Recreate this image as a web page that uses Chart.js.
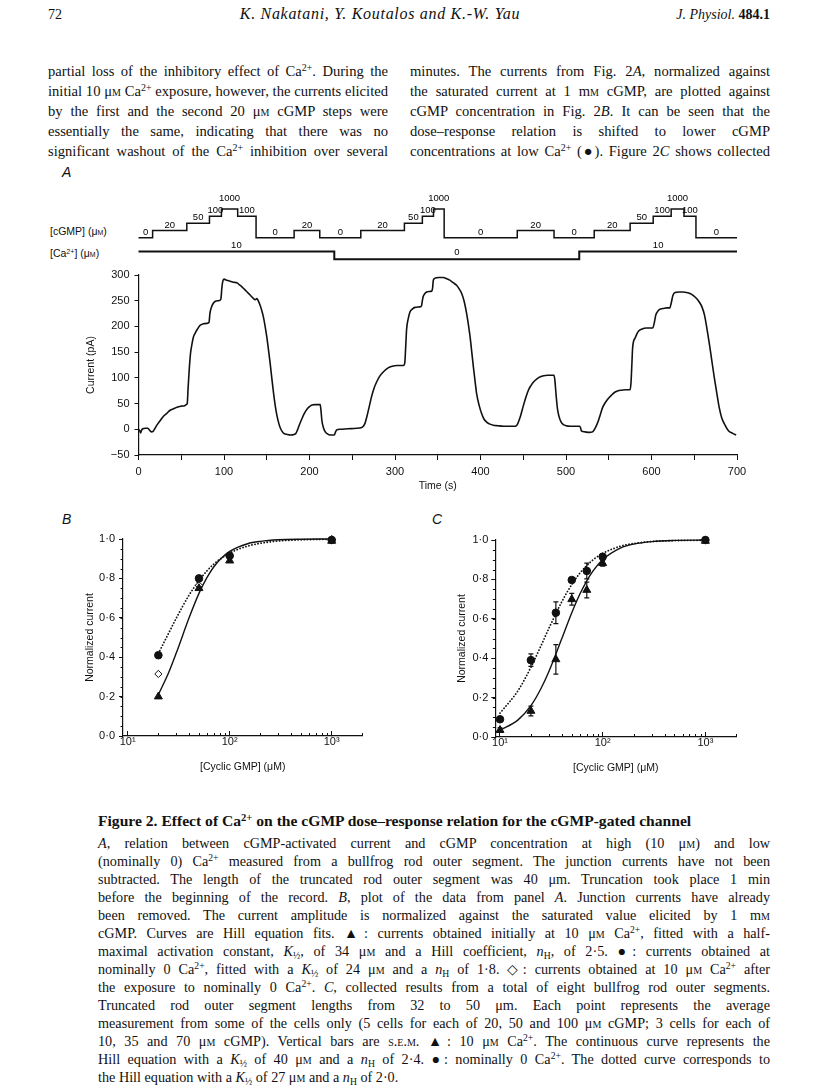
<!DOCTYPE html>
<html>
<head>
<meta charset="utf-8">
<script src="https://cdn.jsdelivr.net/npm/chart.js@4.4.1/dist/chart.umd.min.js"></script>
<style>
  body { margin: 0; background: #fff; }
  #page { position: relative; width: 816px; height: 1091px; overflow: hidden; font-family: "Liberation Serif", serif; color: #111; }
  .abs { position: absolute; }
  canvas { position: absolute; }
  .hdr { font-size: 14px; line-height: 18px; white-space: nowrap; }
  .ln { height: 20px; line-height: 20px; font-size: 14.6px; white-space: nowrap; text-align: justify; text-align-last: justify; }
  .cap { height: 18px; line-height: 18px; font-size: 14.2px; white-space: nowrap; text-align: justify; text-align-last: justify; }
  .cap.last { text-align: left; text-align-last: left; }
  sup { font-size: 0.68em; vertical-align: 0; position: relative; top: -0.48em; line-height: 0; }
  sub { font-size: 0.68em; vertical-align: 0; position: relative; top: 0.3em; line-height: 0; }
  .sc { font-variant: small-caps; }
  .plabel { font-family: "Liberation Sans", Arial, sans-serif; font-style: italic; font-size: 14px; }
  .stim { font-family: "Liberation Sans", Arial, sans-serif; font-size: 10.5px; line-height: 12px; }
</style>
</head>
<body>
<div id="page">
  <div class="abs hdr" style="left:48px;top:6px;">72</div>
  <div class="abs hdr" style="left:180px;width:400px;top:5px;text-align:center;font-style:italic;font-size:16px;letter-spacing:0.7px;">K. Nakatani, Y. Koutalos and K.-W. Yau</div>
  <div class="abs hdr" style="right:46px;top:6px;"><i>J. Physiol.</i> <b>484.1</b></div>

  <div class="abs" style="left:48px;top:61px;width:340px;">
    <div class="ln">partial loss of the inhibitory effect of Ca<sup>2+</sup>. During the</div>
    <div class="ln">initial 10 μ<span class="sc">m</span> Ca<sup>2+</sup> exposure, however, the currents elicited</div>
    <div class="ln">by the first and the second 20 μ<span class="sc">m</span> cGMP steps were</div>
    <div class="ln">essentially the same, indicating that there was no</div>
    <div class="ln">significant washout of the Ca<sup>2+</sup> inhibition over several</div>
  </div>
  <div class="abs" style="left:410px;top:61px;width:360px;">
    <div class="ln">minutes. The currents from Fig. 2<i>A</i>, normalized against</div>
    <div class="ln">the saturated current at 1 m<span class="sc">m</span> cGMP, are plotted against</div>
    <div class="ln">cGMP concentration in Fig. 2<i>B</i>. It can be seen that the</div>
    <div class="ln">dose–response relation is shifted to lower cGMP</div>
    <div class="ln">concentrations at low Ca<sup>2+</sup> (●). Figure 2<i>C</i> shows collected</div>
  </div>

  <div class="abs plabel" style="left:62px;top:164px;">A</div>
  <div class="abs stim" style="left:50px;top:225px;">[cGMP] (μ<span class="sc">m</span>)</div>
  <div class="abs stim" style="left:50px;top:247px;">[Ca<sup>2+</sup>] (μ<span class="sc">m</span>)</div>
  <div class="abs plabel" style="left:62px;top:511px;">B</div>
  <div class="abs plabel" style="left:432px;top:511px;">C</div>

  <canvas id="cgmp" width="720" height="60" style="left:40px;top:185px;"></canvas>
  <canvas id="calcium" width="720" height="30" style="left:40px;top:236px;"></canvas>
  <canvas id="trace" width="720" height="238" style="left:40px;top:262px;"></canvas>
  <canvas id="panelB" width="320" height="255" style="left:60px;top:525px;"></canvas>
  <canvas id="panelC" width="320" height="255" style="left:430px;top:525px;"></canvas>

  <div class="abs" style="left:98px;top:812px;font-size:15.6px;line-height:18px;font-weight:bold;white-space:nowrap;">Figure 2. Effect of Ca<sup>2+</sup> on the cGMP dose–response relation for the cGMP-gated channel</div>
  <div class="abs" style="left:98px;top:834px;width:672px;">
    <div class="cap"><i>A</i>, relation between cGMP-activated current and cGMP concentration at high (10 μ<span class="sc">m</span>) and low</div>
    <div class="cap">(nominally 0) Ca<sup>2+</sup> measured from a bullfrog rod outer segment. The junction currents have not been</div>
    <div class="cap">subtracted. The length of the truncated rod outer segment was 40 μm. Truncation took place 1 min</div>
    <div class="cap">before the beginning of the record. <i>B</i>, plot of the data from panel <i>A</i>. Junction currents have already</div>
    <div class="cap">been removed. The current amplitude is normalized against the saturated value elicited by 1 m<span class="sc">m</span></div>
    <div class="cap">cGMP. Curves are Hill equation fits. ▲: currents obtained initially at 10 μ<span class="sc">m</span> Ca<sup>2+</sup>, fitted with a half-</div>
    <div class="cap">maximal activation constant, <i>K</i><sub>½</sub>, of 34 μ<span class="sc">m</span> and a Hill coefficient, <i>n</i><sub>H</sub>, of 2·5. ●: currents obtained at</div>
    <div class="cap">nominally 0 Ca<sup>2+</sup>, fitted with a <i>K</i><sub>½</sub> of 24 μ<span class="sc">m</span> and a <i>n</i><sub>H</sub> of 1·8. ◇: currents obtained at 10 μ<span class="sc">m</span> Ca<sup>2+</sup> after</div>
    <div class="cap">the exposure to nominally 0 Ca<sup>2+</sup>. <i>C</i>, collected results from a total of eight bullfrog rod outer segments.</div>
    <div class="cap">Truncated rod outer segment lengths from 32 to 50 μm. Each point represents the average</div>
    <div class="cap">measurement from some of the cells only (5 cells for each of 20, 50 and 100 μ<span class="sc">m</span> cGMP; 3 cells for each of</div>
    <div class="cap">10, 35 and 70 μ<span class="sc">m</span> cGMP). Vertical bars are <span class="sc">s.e.m.</span> ▲: 10 μ<span class="sc">m</span> Ca<sup>2+</sup>. The continuous curve represents the</div>
    <div class="cap">Hill equation with a <i>K</i><sub>½</sub> of 40 μ<span class="sc">m</span> and a <i>n</i><sub>H</sub> of 2·4. ●: nominally 0 Ca<sup>2+</sup>. The dotted curve corresponds to</div>
    <div class="cap last">the Hill equation with a <i>K</i><sub>½</sub> of 27 μ<span class="sc">m</span> and a <i>n</i><sub>H</sub> of 2·0.</div>
  </div>
</div>

<script>
// ---- panel A: solution protocol (time of each change, new level) ----
const cgmpLevelLabels = ['1000', '100', '50', '20', '0'];
const cgmpTimes  = [0, 16.5, 56.5, 83, 97, 116, 137.5, 182, 212, 260, 311, 332, 345, 357.5, 443, 486, 533, 575, 602, 623, 638, 652, 700];
const cgmpLevels = ['0', '20', '50', '100', '1000', '100', '0', '20', '0', '20', '50', '100', '1000', '0', '20', '0', '20', '50', '100', '1000', '100', '0', '0'];
const caTimes  = [0, 229, 515.5, 700];
const caLevels = [10, 0, 10, 10];

// ---- panel A: current trace ----
const traceTime = [0,1.5,2.5,3.5,5,8,11,13,15,17,19,21.5,25,29,33,37,41,45,50,54,56,57,58,59.5,61,62.5,64,66,69,72,
  76,80,82.5,83.5,85,87.5,90,93,95.5,96.5,97.5,98.5,100,103,107,111,115,118,121,124,127,130,134,136.5,138.5,140,142,144,146,148,
  150,152,154,156,158,160,162,164,166,168,170,174,178,182,184,186,188,191,194,197,200,203,206,210,212.5,213.5,214.5,216.5,218.5,221,
  224,229,230.5,232,236,245,255,260,263,265,267,270,272.5,275.5,278.5,282,286,290,294,298,302,310,311.5,312.5,313.6,315.5,317.5,320.5,323.4,329,
  331,332,333,335,337,340,343,344,344.8,347,351,356.5,360,364,368,372,375,378,381,383.8,385.8,387.8,389.8,391.7,393.6,395.5,398.5,401.4,404,407.2,
  411,415,420,427,435,441,443,445,447,450,453,456,459,462,466,470,474,478,482,486,487,488.5,490,491.5,494,497,500,505,510,516,
  517,518,522,527,531,533,535,537.3,540,543,546,549,553,557,561,565,570,575,576,577,578,581,584,589,594,598,601.5,603,605,608,
  611,614,618,621.5,623,625,627.5,632,637,641,645,649,653,656,659,662,664.5,667.5,670.5,673.5,676.5,679,682,686,690,695,699];
const traceCurrent = [0,-3,-7,-2,1,2,2,-2,-5,-4,1,8,16,25,31,37,40,43,45,46,48,50,80,120,150,165,178,186,195,202,
  205,206,208,225,236,245,249,250,251,255,275,287,292,290,288,286,285,281,277,272,267,262,255,252,254,250,242,232,219,201,
  180,155,128,98,70,45,26,12,2,-4,-8,-10,-11,-10,-8,-1,8,20,31,39,44,47,48,48,48,35,17,2,-5,-9,
  -11,-11,-5,-1,0,1,2,3,6,12,24,45,63,80,92,103,111,117,121,123,124,124,130,160,195,215,228,234,237,238,
  240,250,258,264,267,268,269,275,290,294,295,295,293,290,285,280,273,264,248,225,204,180,150,121,94,69,46,30,20,14,
  10,8,7,6,6,6,9,17,27,45,62,76,85,92,98,102,104,105,105,105,95,65,40,27,15,9,7,6,6,6,
  3,-3,-5,-6,-5,-1,5,14,28,43,52,59,66,72,75,76,77,77,90,125,160,178,189,195,197,197,197,205,222,231,
  234,235,236,236,245,260,266,267,267,266,264,260,254,247,238,222,199,168,134,100,69,44,23,8,-3,-8,-11];

// ---- panel B: single cell ----
const bConc    = [20, 50, 100, 1000];
const bTri     = [0.20, 0.75, 0.89, 0.99];
const bCircle  = [0.41, 0.80, 0.915, 0.995];
const bDiamond = [0.315, 0.765, 0.91, 1.0];
const bFitConc = [20, 25, 30, 40, 50, 60, 70, 80, 100, 150, 200, 300, 500, 1000];
const bSolid   = [0.21, 0.317, 0.422, 0.600, 0.724, 0.805, 0.859, 0.895, 0.937, 0.976, 0.988, 0.996, 0.999, 1.0];
const bDotted  = [0.419, 0.518, 0.599, 0.715, 0.789, 0.839, 0.873, 0.897, 0.929, 0.964, 0.978, 0.990, 0.996, 0.999];

// ---- panel C: collected results ----
const cConc      = [10, 20, 35, 50, 70, 100, 1000];
const cTri       = [0.035, 0.132, 0.394, 0.699, 0.746, 0.882, 0.995];
const cTriErr    = [0.012, 0.025, 0.075, 0.03, 0.04, 0.015, 0];
const cCircle    = [0.09, 0.39, 0.631, 0.797, 0.843, 0.915, 1.0];
const cCircleErr = [0, 0.032, 0.055, 0.01, 0.04, 0.015, 0];
const cFitConc = [10, 15, 20, 25, 30, 40, 50, 60, 70, 80, 100, 150, 200, 300, 500, 1000];
const cSolid   = [0.035, 0.087, 0.159, 0.245, 0.334, 0.5, 0.631, 0.726, 0.793, 0.841, 0.900, 0.960, 0.979, 0.992, 0.998, 1.0];
const cDotted  = [0.121, 0.236, 0.354, 0.462, 0.553, 0.687, 0.774, 0.832, 0.870, 0.898, 0.932, 0.969, 0.982, 0.992, 0.997, 0.999];

// axis ticks
const logTicks = [10, 100, 1000];
const logTickLabels = ['10\u00b9', '10\u00b2', '10\u00b3'];
const logMinorTicks = [20, 30, 40, 50, 60, 70, 80, 90, 200, 300, 400, 500, 600, 700, 800, 900, 2000];

const INK = '#111';
Chart.defaults.font.family = '"Liberation Sans", Arial, sans-serif';
Chart.defaults.font.size = 11;
Chart.defaults.color = INK;

const pairs = (xs, ys) => xs.map((x, i) => ({ x: x, y: ys[i] }));
const noLegend = { legend: { display: false }, tooltip: { enabled: false } };

// labels above each step of the protocol (the top level sits a bit higher)
const stepLabels = {
  id: 'stepLabels',
  afterDatasetsDraw(chart, args, opts) {
    const ctx = chart.ctx;
    const ds = chart.data.datasets[0];
    const pts = chart.getDatasetMeta(0).data;
    const top = chart.chartArea.top;
    ctx.save();
    ctx.font = '9.5px "Liberation Sans", Arial, sans-serif';
    ctx.fillStyle = '#000';
    ctx.textAlign = 'center';
    ctx.textBaseline = 'alphabetic';
    for (let i = 0; i < pts.length - 1; i++) {
      const lift = Math.abs(pts[i].y - top) < 0.5 ? opts.topLift : 0;
      ctx.fillText(String(ds.data[i].y), (pts[i].x + pts[i + 1].x) / 2, pts[i].y - opts.gap - lift);
    }
    ctx.restore();
  }
};

// short ticks between the labelled ones
const minorTicks = {
  id: 'minorTicks',
  afterDraw(chart, args, opts) {
    const { ctx, scales: { x, y } } = chart;
    ctx.save();
    ctx.strokeStyle = INK;
    ctx.lineWidth = 1;
    ctx.beginPath();
    (opts.xValues || []).forEach((v) => {
      const px = Math.round(x.getPixelForValue(v)) + 0.5;
      ctx.moveTo(px, x.top);
      ctx.lineTo(px, x.top + opts.xLen);
    });
    if (opts.yStep) {
      for (let v = y.min; v <= y.max + 1e-9; v += opts.yStep) {
        const py = Math.round(y.getPixelForValue(v)) + 0.5;
        ctx.moveTo(y.right, py);
        ctx.lineTo(y.right - opts.yLen, py);
      }
    }
    ctx.stroke();
    ctx.restore();
  }
};

// vertical S.E.M. bars
const errorBars = {
  id: 'errorBars',
  afterDatasetsDraw(chart) {
    const ctx = chart.ctx;
    const y = chart.scales.y;
    ctx.save();
    ctx.strokeStyle = INK;
    ctx.lineWidth = 1.2;
    chart.data.datasets.forEach((ds, i) => {
      if (!ds.errorBars) return;
      chart.getDatasetMeta(i).data.forEach((pt, j) => {
        const e = ds.errorBars[j];
        if (!e) return;
        const top = y.getPixelForValue(ds.data[j].y + e);
        const bot = y.getPixelForValue(ds.data[j].y - e);
        ctx.beginPath();
        ctx.moveTo(pt.x, top); ctx.lineTo(pt.x, bot);
        ctx.moveTo(pt.x - 2.5, top); ctx.lineTo(pt.x + 2.5, top);
        ctx.moveTo(pt.x - 2.5, bot); ctx.lineTo(pt.x + 2.5, bot);
        ctx.stroke();
      });
    });
    ctx.restore();
  }
};

// cGMP protocol
new Chart(document.getElementById('cgmp'), {
  type: 'line',
  data: {
    datasets: [{
      data: pairs(cgmpTimes, cgmpLevels),
      stepped: true,
      borderColor: INK,
      borderWidth: 1.5,
      pointRadius: 0,
      clip: false,
    }],
  },
  options: {
    responsive: false, animation: false, events: [],
    layout: { padding: { left: 98.5, right: 23, top: 24, bottom: 7.3 } },
    scales: {
      x: { type: 'linear', min: 0, max: 700, display: false },
      y: { type: 'category', labels: cgmpLevelLabels, display: false },
    },
    plugins: Object.assign({ stepLabels: { gap: 3, topLift: 5 } }, noLegend),
  },
  plugins: [stepLabels],
});

// Ca protocol
new Chart(document.getElementById('calcium'), {
  type: 'line',
  data: {
    datasets: [{
      data: pairs(caTimes, caLevels),
      stepped: true,
      borderColor: INK,
      borderWidth: 2,
      pointRadius: 0,
      clip: false,
    }],
  },
  options: {
    responsive: false, animation: false, events: [],
    layout: { padding: { left: 98.5, right: 23, top: 15.5, bottom: 6.7 } },
    scales: {
      x: { type: 'linear', min: 0, max: 700, display: false },
      y: { type: 'linear', min: 0, max: 10, display: false },
    },
    plugins: Object.assign({ stepLabels: { gap: 4, topLift: 0 } }, noLegend),
  },
  plugins: [stepLabels],
});

// current trace
new Chart(document.getElementById('trace'), {
  type: 'line',
  data: {
    datasets: [{
      data: pairs(traceTime, traceCurrent),
      borderColor: INK,
      borderWidth: 1.6,
      pointRadius: 0,
      cubicInterpolationMode: 'monotone',
    }],
  },
  options: {
    responsive: false, animation: false, events: [],
    layout: { padding: { left: 0, right: 23, top: 13, bottom: 0 } },
    scales: {
      x: {
        type: 'linear', min: 0, max: 700,
        ticks: { stepSize: 50, padding: 5, autoSkip: false, maxRotation: 0,
          callback: (v) => (v % 100 === 0 ? String(v) : '') },
        grid: { drawOnChartArea: false, tickLength: 5, color: INK },
        border: { color: INK, width: 1.2 },
        title: { display: true, text: 'Time (s)', font: { size: 10.5 }, padding: { top: 0, bottom: 7.7 } },
        afterFit: (s) => { s.height = 45; },
      },
      y: {
        min: -50, max: 300,
        ticks: { stepSize: 50, padding: 5, callback: (v) => String(v).replace('-', '\u2212') },
        grid: { drawOnChartArea: false, tickLength: 4, color: INK },
        border: { color: INK, width: 1.2 },
        title: { display: true, text: 'Current (pA)', font: { size: 10.5 }, padding: { top: 44.4, bottom: 0 } },
        afterFit: (s) => { s.width = 98.5; },
      },
    },
    plugins: noLegend,
  },
});

function doseChart(id, cfg) {
  const curve = (xs, ys, dotted) => ({
    data: pairs(xs, ys),
    borderColor: INK,
    borderWidth: dotted ? 1.8 : 1.4,
    borderDash: dotted ? [0.1, 3] : [],
    borderCapStyle: dotted ? 'round' : 'butt',
    pointRadius: 0,
    cubicInterpolationMode: 'monotone',
    clip: false,
    order: 10,
  });
  const marks = (xs, ys, style, r, fill, errs, order) => ({
    data: pairs(xs, ys),
    showLine: false,
    pointStyle: style,
    pointRadius: r,
    pointBackgroundColor: fill,
    pointBorderColor: INK,
    pointBorderWidth: 1,
    errorBars: errs,
    clip: false,
    order: order,
  });
  const datasets = [curve(cfg.fitX, cfg.solid, false), curve(cfg.fitX, cfg.dotted, true)];
  cfg.sets.forEach((s) => datasets.push(marks(cfg.x, s.y, s.style, s.r, s.fill, s.err, s.order)));

  new Chart(document.getElementById(id), {
    type: 'line',
    data: { datasets: datasets },
    options: {
      responsive: false, animation: false, events: [],
      layout: { padding: { left: 0, right: cfg.padRight, top: cfg.padTop, bottom: 0 } },
      scales: {
        x: {
          type: 'logarithmic', min: 9, max: 2000,
          afterBuildTicks: (s) => { s.ticks = logTicks.map((v) => ({ value: v })); },
          ticks: { padding: 4, autoSkip: false, maxRotation: 0,
            callback: (v) => logTickLabels[logTicks.indexOf(v)] || '' },
          grid: { drawOnChartArea: false, tickLength: -5, color: INK },
          border: { color: INK, width: 1.2 },
          title: { display: true, text: '[Cyclic GMP] (\u03bcM)', font: { size: 10.5 }, padding: { top: 0, bottom: cfg.xTitlePad } },
          afterFit: (s) => { s.height = cfg.xHeight; },
        },
        y: {
          min: 0, max: 1,
          ticks: { stepSize: 0.2, padding: cfg.yTickPad, callback: (v) => v.toFixed(1).replace('.', '\u00b7') },
          grid: { drawOnChartArea: false, tickLength: 4, color: INK },
          border: { color: INK, width: 1.2 },
          title: { display: true, text: 'Normalized current', font: { size: 10.5 }, padding: { top: cfg.yTitlePad, bottom: 0 } },
          afterFit: (s) => { s.width = cfg.yWidth; },
        },
      },
      plugins: Object.assign({ minorTicks: { xValues: logMinorTicks, xLen: -3, yStep: 0.05, yLen: 2.5 } }, noLegend),
    },
    plugins: [minorTicks, errorBars],
  });
}

doseChart('panelB', {
  x: bConc, fitX: bFitConc, solid: bSolid, dotted: bDotted,
  sets: [
    { y: bDiamond, style: 'rectRot', r: 3.6, fill: '#fff', order: 3 },
    { y: bTri, style: 'triangle', r: 4.6, fill: INK, order: 2 },
    { y: bCircle, style: 'circle', r: 3.8, fill: INK, order: 1 },
  ],
  padRight: 17.6, padTop: 14, xHeight: 44, yWidth: 63, yTickPad: 4, yTitlePad: 24, xTitlePad: 7,
});

doseChart('panelC', {
  x: cConc, fitX: cFitConc, solid: cSolid, dotted: cDotted,
  sets: [
    { y: cTri, err: cTriErr, style: 'triangle', r: 4.6, fill: INK, order: 2 },
    { y: cCircle, err: cCircleErr, style: 'circle', r: 3.8, fill: INK, order: 1 },
  ],
  padRight: 13.7, padTop: 15, xHeight: 43, yWidth: 65.3, yTickPad: 3, yTitlePad: 25.4, xTitlePad: 5.4,
});
</script>
</body>
</html>
